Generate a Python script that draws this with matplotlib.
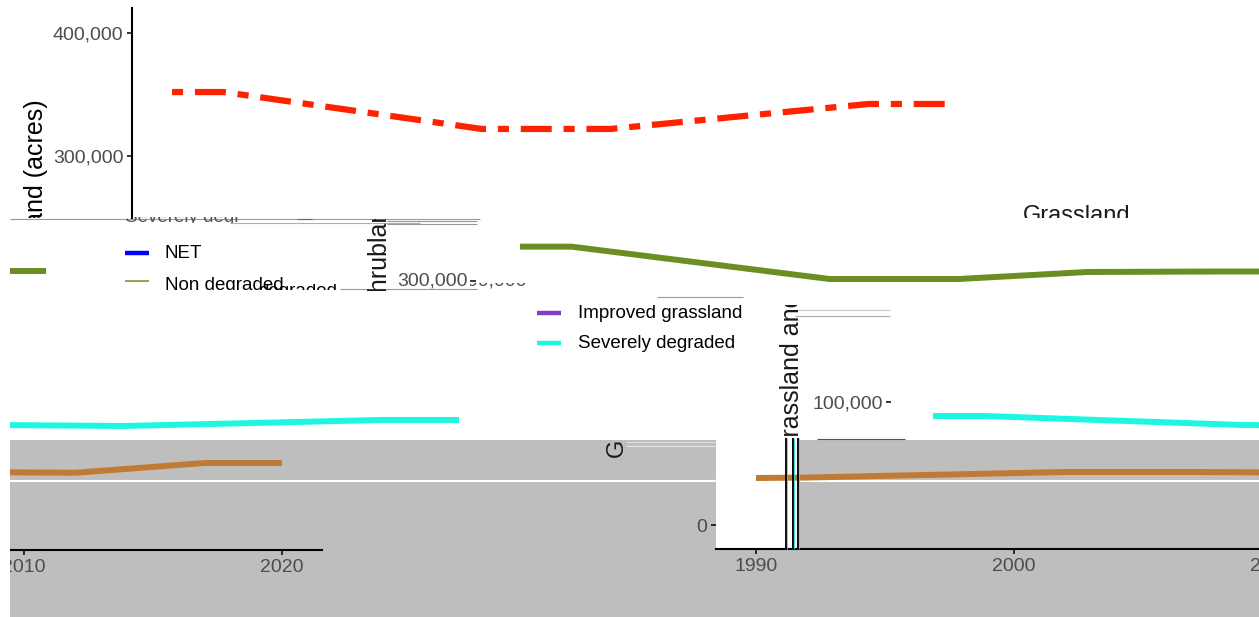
import matplotlib
matplotlib.use("Agg")
import matplotlib.pyplot as plt
from matplotlib.patches import Rectangle

plt.rcParams["font.family"] = ["Liberation Sans", "DejaVu Sans"]
plt.rcParams["lines.scale_dashes"] = False
plt.rcParams["lines.solid_capstyle"] = "butt"

# values (acres)
years = [1990, 1992, 2002, 2007, 2012, 2017, 2020]
net = [352000, 352000, 322000, 322000, 332200, 342300, 342300]
non_degraded = [226300, 226300, 200000, 200000, 205700, 206100, 206100]
severely_degraded = [88600, 88600, 81300, 80500, 82900, 85400, 85400]
moderately_degraded = [38200, 38600, 43100, 43100, 42500, 50400, 50400]

legend_top = ["NET", "Non degraded"]
legend_bottom = ["Improved grassland", "Severely degraded"]
top_ticks = [300000, 400000]
left_year_ticks = [2010, 2020]
right_year_ticks = [1990, 2000]

COLORS = {
    "NET": "#0000ff",
    "Non degraded": "#6b8e23",
    "Improved grassland": "#7f3fbf",
    "Severely degraded": "#1ff5e3",
    "Moderately degraded": "#bf7a36",
}
NET_LINE = "#ff2200"
GREY_TXT = "#4d4d4d"
TICK_PT = 14
LEG_PT = 13.5
TITLE_PT = 18

W, H = 1259, 617
PX_YEAR = 25.8
PX_ACRE = 123 / 100000
ZERO_ROW = 525
WRAP = 1248  # rows of the picture wrap round by this many pixels

fig = plt.figure(figsize=(W / 100, H / 100), dpi=100)


def rect(x0, x1, y0, y1):
    return [x0 / W, 1 - y1 / H, (x1 - x0) / W, (y1 - y0) / H]


def panel(x0, x1, y0, y1, px1990, z=3):
    # a window on the data, placed at pixel box (x0..x1, y0..y1)
    ax = fig.add_axes(rect(x0, x1, y0, y1), zorder=z)
    ax.set_xlim(1990 + (x0 - px1990) / PX_YEAR, 1990 + (x1 - px1990) / PX_YEAR)
    ax.set_ylim((ZERO_ROW - y1) / PX_ACRE, (ZERO_ROW - y0) / PX_ACRE)
    ax.patch.set_visible(False)
    for sp in ax.spines.values():
        sp.set_visible(False)
        sp.set_linewidth(1.5)
        sp.set_color("black")
    ax.set_xticks([])
    ax.set_yticks([])
    ax.tick_params(colors="black", labelcolor=GREY_TXT, labelsize=TICK_PT,
                   length=3.6, width=1.1, pad=2.5)
    return ax


def pix(x0, x1, y0, y1, z=4):
    ax = fig.add_axes(rect(x0, x1, y0, y1), zorder=z)
    ax.set_xlim(x0, x1)
    ax.set_ylim(y1, y0)
    ax.set_axis_off()
    return ax


# background + glitch debris
bg = pix(0, W, 0, H, z=0)
bg.add_patch(Rectangle((10, 440), W - 10, H - 440, facecolor="#bebebe", edgecolor="none"))
bg.add_patch(Rectangle((716, 440), 84, 109, facecolor="white", edgecolor="none"))
bg.plot([10, W], [480.5, 480.5], color="white", lw=1.5)
for xa, xb, yy, c in [(10, 480, 219, "#9a9a9a"), (230, 420, 223, "#b0b0b0"),
                      (387, 477, 220.5, "#999999"), (387, 477, 223.5, "#999999"),
                      (297, 312, 219, "#666666"), (340, 477, 289, "#999999"),
                      (657, 743, 297, "#999999"), (795, 890, 309.5, "#cccccc"),
                      (795, 890, 315.5, "#aaaaaa"), (817, 905, 438.5, "#555555"),
                      (626, 715, 442, "#dddddd"), (626, 715, 446, "#e6e6e6")]:
    bg.plot([xa, xb], [yy, yy], color=c, lw=0.8)

# top: NET
top = panel(132, W, 8, 218, 172)
top.plot(years, net, color=NET_LINE, lw=4.5, dashes=[8, 8.5, 22.3, 8.5])
top.spines["left"].set_visible(True)
top.set_yticks(top_ticks)
top.set_yticklabels([f"{v:,}" for v in top_ticks])

t = pix(0, 131, 0, 218)
t.text(36, 99, "Grassland (acres)", rotation=90, ha="center", va="top",
       fontsize=TITLE_PT, color="black", clip_on=True)
t = pix(900, W, 150, 218)
t.text(1077, 222, "Grassland", ha="center", va="baseline", fontsize=17,
       color="#1a1a1a", clip_on=True)

# band 2: Non degraded
g_right = panel(480, W, 225, 296, 520)
g_right.plot(years, non_degraded, color=COLORS["Non degraded"], lw=4.3)
g_left = panel(10, 120, 225, 296, 520 - WRAP)
g_left.plot(years, non_degraded, color=COLORS["Non degraded"], lw=4.3)

t = pix(120, 240, 217, 223)
t.text(125, 222, "Severely degraded", va="baseline", fontsize=LEG_PT, color="#555555", clip_on=True)

leg = pix(100, 360, 226, 290)
for name, ky, ty, lw in zip(legend_top, [253, 281], [253.5, 286], [3.2, 1.1]):
    leg.plot([125, 149], [ky, ky], color=COLORS[name], lw=lw)
    leg.text(165, ty, name, va="center", fontsize=LEG_PT, color="black", clip_on=True)
t = pix(240, 345, 284, 290)
t.text(258, 296, "degraded", va="baseline", fontsize=LEG_PT, color="black", clip_on=True)

t = pix(360, 400, 219, 291)
t.text(379, 307, "Shrubland", rotation=90, ha="center", va="bottom", fontsize=TITLE_PT,
       color="#1a1a1a", clip_on=True)
t = pix(380, 480, 265, 289.5)
t.text(468, 281, "300,000", ha="right", va="center", fontsize=TICK_PT, color=GREY_TXT, clip_on=True)
t.plot([470, 476], [281, 281], color="black", lw=1.1)
t = pix(470, 530, 283, 289.5)
t.text(527, 281, "300,000", ha="right", va="center", fontsize=TICK_PT, color=GREY_TXT, clip_on=True)

# band 3: legend, Severely degraded
leg2 = pix(520, 760, 298, 360)
for name, ky in zip(legend_bottom, [313, 343]):
    leg2.plot([537, 561], [ky, ky], color=COLORS[name], lw=3.2)
    leg2.text(578, ky, name, va="center", fontsize=LEG_PT, color="black", clip_on=True)

c_right = panel(891, W, 380, 440, 933)
c_right.plot(years, severely_degraded, color=COLORS["Severely degraded"], lw=4.3)
c_right.set_yticks([100000])
c_right.set_yticklabels(["100,000"])
c_left = panel(10, 470, 380, 440, 933 - WRAP)
c_left.plot(years, severely_degraded, color=COLORS["Severely degraded"], lw=4.3)

t = pix(770, 815, 305, 437)
t.text(792, 456, "Grassland and Shrubland", rotation=90, ha="center", va="bottom",
       fontsize=TITLE_PT, color="#1a1a1a", clip_on=True)
t = pix(600, 640, 440, 460)
t.text(617, 448, "G", rotation=90, ha="center", va="center", fontsize=17,
       color="#1a1a1a", clip_on=True)

# band 4: Moderately degraded
b_right = panel(716, W, 440, 549, 756)
b_right.plot(years, moderately_degraded, color=COLORS["Moderately degraded"], lw=4.3)
b_right.spines["bottom"].set_visible(True)
b_right.set_xticks(right_year_ticks)
b_right.set_yticks([0])
b_right.set_yticklabels(["0"])
b_right.tick_params(axis="x", pad=3)
b_right.annotate("2010", xy=(2010, 0), xycoords=b_right.get_xaxis_transform(),
                 xytext=(0, -6.6), textcoords="offset points", ha="center", va="top",
                 fontsize=TICK_PT, color=GREY_TXT, annotation_clip=False)

b_left = panel(10, 322, 440, 550, 756 - WRAP)
b_left.plot(years, moderately_degraded, color=COLORS["Moderately degraded"], lw=4.3)
b_left.spines["bottom"].set_visible(True)
b_left.set_xticks(left_year_ticks)
b_left.tick_params(axis="x", pad=3)

# vertical glitch stripes, white left margin
ov = pix(0, W, 0, H, z=5)
for x in [786, 793, 798]:
    ov.plot([x - 1.3, x - 1.3], [438, 549], color="#ff3030", lw=0.6)
    ov.plot([x, x], [438, 549], color="black", lw=1.3)
    ov.plot([x + 1.3, x + 1.3], [438, 549], color="#20e0e0", lw=0.6)
ov.add_patch(Rectangle((0, 218), 10.5, H - 218, facecolor="white", edgecolor="none"))

fig.savefig("out.png", dpi=100, facecolor="white")
